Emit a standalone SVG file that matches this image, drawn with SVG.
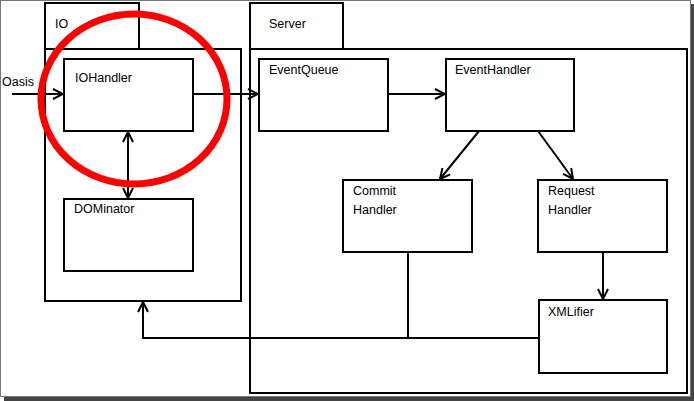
<svg xmlns="http://www.w3.org/2000/svg" width="694" height="401" viewBox="0 0 694 401">
<style>
.box{fill:#fff;stroke:#000;stroke-width:2}
.t{font-family:"Liberation Sans",Arial,sans-serif;font-size:12.5px;fill:#000}
.c{fill:none;stroke:#000;stroke-width:2}
</style>
<defs>
<marker id="ah" viewBox="0 0 12 12" refX="11" refY="6" markerWidth="12" markerHeight="12" markerUnits="userSpaceOnUse" orient="auto-start-reverse">
<path d="M1,1 L11,6 L1,11" fill="none" stroke="#000" stroke-width="2"/>
</marker>
</defs>
<rect x="0" y="0" width="694" height="401" fill="#fff"/>
<rect x="4" y="397" width="690" height="4" fill="#444"/>
<rect x="691" y="4" width="3" height="397" fill="#444"/>
<rect x="0.5" y="0.5" width="690" height="396" fill="none" stroke="#777" stroke-width="1"/>
<g id="io">
<rect class="box" x="45" y="3" width="94" height="46"/>
<rect class="box" x="45" y="49" width="196" height="252"/>
<text class="t" x="55" y="28">IO</text>
</g>
<g id="server">
<rect class="box" x="250" y="3" width="93" height="46"/>
<rect class="box" x="250" y="49" width="437" height="344"/>
<text class="t" x="269" y="28">Server</text>
</g>
<g id="iohandler">
<rect class="box" x="64" y="59" width="129" height="72"/>
<text class="t" x="75" y="81.5">IOHandler</text>
</g>
<g id="dominator">
<rect class="box" x="64" y="199" width="129" height="72"/>
<text class="t" x="74" y="212.5">DOMinator</text>
</g>
<g id="eventqueue">
<rect class="box" x="259" y="59" width="129" height="72"/>
<text class="t" x="269" y="74">EventQueue</text>
</g>
<g id="eventhandler">
<rect class="box" x="446" y="59" width="128" height="72"/>
<text class="t" x="455" y="74">EventHandler</text>
</g>
<g id="commithandler">
<rect class="box" x="343" y="180" width="129" height="72"/>
<text class="t" x="353" y="194.5">Commit</text>
<text class="t" x="353" y="214">Handler</text>
</g>
<g id="requesthandler">
<rect class="box" x="538" y="180" width="129" height="72"/>
<text class="t" x="548" y="194.5">Request</text>
<text class="t" x="548" y="214">Handler</text>
</g>
<g id="xmlifier">
<rect class="box" x="539" y="300" width="128" height="73"/>
<text class="t" x="548" y="316">XMLifier</text>
</g>
<g id="oasis">
<text class="t" x="2" y="85.5">Oasis</text>
</g>
<g id="connectors">
<line class="c" x1="12" y1="94" x2="63" y2="94" marker-end="url(#ah)"/>
<line class="c" x1="193" y1="94" x2="258" y2="94" marker-end="url(#ah)"/>
<line class="c" x1="388" y1="94" x2="445" y2="94" marker-end="url(#ah)"/>
<line class="c" x1="128" y1="132" x2="128" y2="198" marker-start="url(#ah)" marker-end="url(#ah)"/>
<line class="c" x1="479" y1="131" x2="440" y2="179" marker-end="url(#ah)"/>
<line class="c" x1="538" y1="131" x2="573" y2="179" marker-end="url(#ah)"/>
<line class="c" x1="603" y1="252" x2="603" y2="299" marker-end="url(#ah)"/>
<polyline class="c" points="539,338 143,338 143,302" marker-end="url(#ah)"/>
<line class="c" x1="408" y1="252" x2="408" y2="338"/>
</g>
<ellipse cx="134" cy="99" rx="93" ry="85" fill="none" stroke="#f00" stroke-width="7"/>
</svg>
